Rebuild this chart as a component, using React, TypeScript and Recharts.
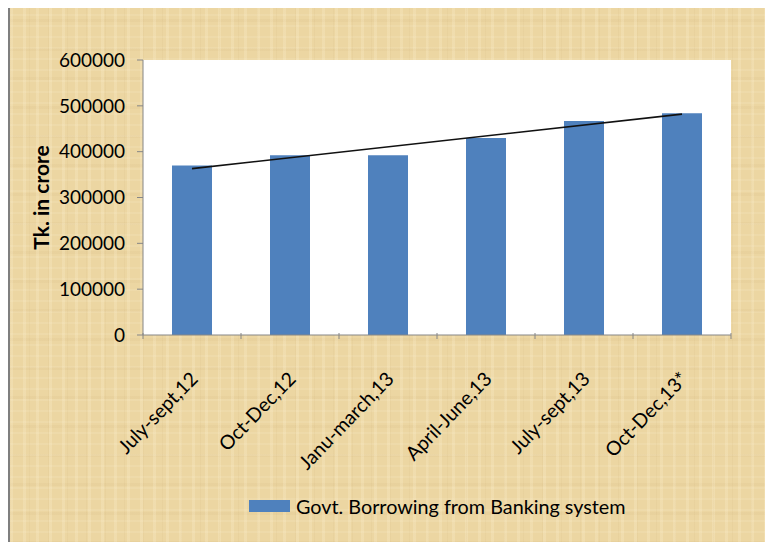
import { BarChart, Bar, XAxis, YAxis, Legend, ReferenceLine } from 'recharts';

const quarters = [
  'July-sept,12',
  'Oct-Dec,12',
  'Janu-march,13',
  'April-June,13',
  'July-sept,13',
  'Oct-Dec,13*',
];
const borrowing = [370000, 392000, 392000, 430000, 467000, 484000];
const yTicks = [0, 100000, 200000, 300000, 400000, 500000, 600000];
// linear trendline end points
const trendStart = 363000;
const trendEnd = 482000;

const seriesName = 'Govt. Borrowing from Banking system';
const data = quarters.map((q, i) => ({ quarter: q, value: borrowing[i] }));

const FONT = 'Lato, "Open Sans", sans-serif';
const BAR = '#4f81bd';
const AXIS = '#868686';
const BAND = 98; // plot width / categories

const paper = {
  backgroundColor: '#ecd6a2',
  backgroundImage: [
    'repeating-linear-gradient(90deg, rgba(255,244,214,0.22) 0 3px, rgba(0,0,0,0) 3px 13px)',
    'repeating-linear-gradient(90deg, rgba(175,140,80,0.06) 0 1px, rgba(0,0,0,0) 1px 19px)',
    'repeating-linear-gradient(0deg, rgba(255,246,222,0.12) 0 2px, rgba(0,0,0,0) 2px 11px)',
    'repeating-linear-gradient(0deg, rgba(165,125,65,0.05) 0 3px, rgba(0,0,0,0) 3px 29px)',
  ].join(','),
};

function XTick(props: any) {
  const { x, y, payload, index } = props;
  const left = x - BAND / 2;
  return (
    <g>
      <line x1={left} y1={y - 8} x2={left} y2={y - 2} stroke={AXIS} />
      {index === quarters.length - 1 && (
        <line x1={left + BAND} y1={y - 8} x2={left + BAND} y2={y - 2} stroke={AXIS} />
      )}
      <text
        transform={`translate(${x + 7},${y + 39}) rotate(-46)`}
        textAnchor="end"
        fontSize={19.5}
        fontFamily={FONT}
        fill="#000"
      >
        {payload.value}
      </text>
    </g>
  );
}

function YLabel(props: any) {
  const { viewBox } = props;
  const cx = viewBox.x + 10;
  const cy = viewBox.y + viewBox.height / 2;
  return (
    <text
      x={cx}
      y={cy}
      transform={`rotate(-90, ${cx}, ${cy})`}
      textAnchor="middle"
      dominantBaseline="central"
      fontSize={21}
      fontWeight="bold"
      fontFamily={FONT}
      fill="#000"
    >
      Tk. in crore
    </text>
  );
}

function LegendBox() {
  return (
    <div style={{ display: 'flex', alignItems: 'center', height: 30, fontFamily: FONT }}>
      <span style={{ display: 'inline-block', width: 41, height: 12, background: BAR, marginRight: 6 }} />
      <span style={{ fontSize: 19.8, color: '#000' }}>{seriesName}</span>
    </div>
  );
}

export default function App() {
  return (
    <div
      style={{
        marginTop: -5,
        width: 765,
        height: 539,
        borderTop: '2px solid #7f7f7f',
        borderLeft: '2px solid #7f7f7f',
        ...paper,
      }}
    >
      <BarChart
        width={763}
        height={537}
        data={data}
        margin={{ top: 55, right: 42, left: 20, bottom: 0 }}
        barSize={40}
      >
        <rect x={133} y={55} width={588} height={275} fill="#fff" />
        <XAxis
          dataKey="quarter"
          interval={0}
          height={177}
          tickLine={false}
          axisLine={{ stroke: AXIS }}
          tick={<XTick />}
          tickMargin={0}
        />
        <YAxis
          width={113}
          domain={[0, 600000]}
          ticks={yTicks}
          tickSize={6}
          tickMargin={12}
          tick={{ fill: '#000', fontSize: 19, fontFamily: FONT }}
          tickLine={{ stroke: AXIS }}
          axisLine={{ stroke: AXIS }}
          label={<YLabel />}
        />
        <Bar dataKey="value" name={seriesName} fill={BAR} isAnimationActive={false} />
        <ReferenceLine
          segment={[
            { x: quarters[0], y: trendStart },
            { x: quarters[quarters.length - 1], y: trendEnd },
          ]}
          stroke="#111"
          strokeWidth={1.6}
        />
        <Legend
          verticalAlign="bottom"
          content={<LegendBox />}
          wrapperStyle={{ top: 486, left: 239, width: 440, height: 30 }}
        />
      </BarChart>
    </div>
  );
}
